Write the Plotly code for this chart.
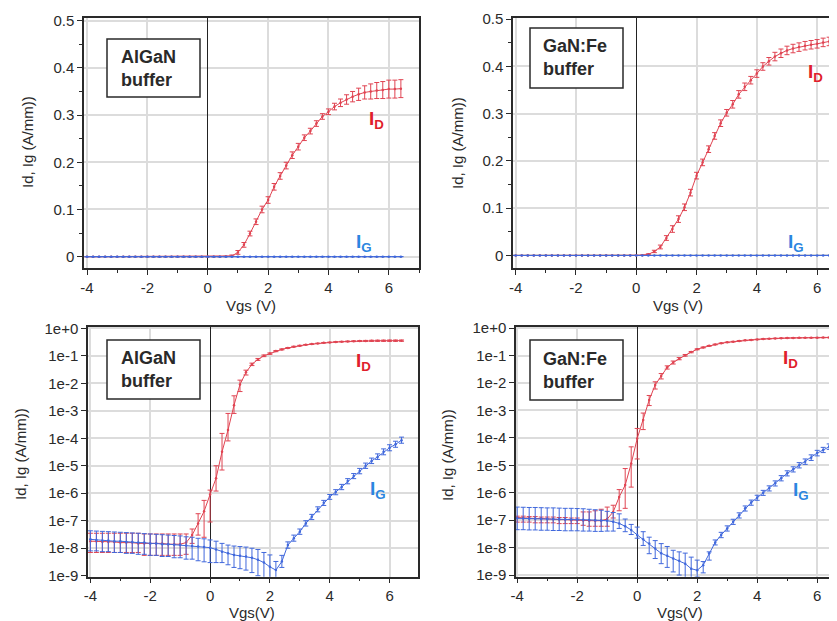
import plotly.graph_objects as go

# ---------------- data ----------------
VGS_ALGAN = [-4.0, -3.8, -3.6, -3.4, -3.2, -3.0, -2.8, -2.6, -2.4, -2.2, -2.0, -1.8, -1.6, -1.4, -1.2, -1.0,
             -0.8, -0.6, -0.4, -0.2, 0.0, 0.2, 0.4, 0.6, 0.8, 1.0, 1.2, 1.4, 1.6, 1.8, 2.0, 2.2, 2.4, 2.6,
             2.8, 3.0, 3.2, 3.4, 3.6, 3.8, 4.0, 4.2, 4.4, 4.6, 4.8, 5.0, 5.2, 5.4, 5.6, 5.8, 6.0, 6.2, 6.4]

ID_ALGAN = [1.8e-8, 1.8e-8, 1.7e-8, 1.7e-8, 1.7e-8, 1.6e-8, 1.6e-8, 1.6e-8, 1.5e-8, 1.5e-8, 1.5e-8, 1.5e-8,
            1.5e-8, 1.4e-8, 1.4e-8, 1.4e-8, 1.6e-8, 3.0e-8, 8.0e-8, 2.2e-7, 9.0e-7, 3.5e-6, 3.2e-5, 2.0e-4,
            1.6e-3, 9.0e-3, 0.025, 0.049, 0.074, 0.100, 0.120, 0.148, 0.171, 0.193, 0.215, 0.233, 0.252,
            0.266, 0.282, 0.297, 0.307, 0.318, 0.326, 0.333, 0.339, 0.344, 0.348, 0.350, 0.352, 0.353,
            0.355, 0.355, 0.356]
ID_ALGAN_HI = [3.5e-8, 3.5e-8, 3.5e-8, 3.5e-8, 3.5e-8, 3.5e-8, 3.5e-8, 3.5e-8, 3.5e-8, 3.3e-8, 3.3e-8, 3.3e-8,
               3.3e-8, 3.3e-8, 3.3e-8, 3.3e-8, 3.3e-8, 5.0e-8, 1.8e-7, 5.5e-7, 1.3e-6, 1.0e-5, 1.5e-4, 8.0e-4,
               3.5e-3, 1.3e-2, 0.030, 0.054, 0.080, 0.107, 0.127, 0.155, 0.178, 0.200, 0.222, 0.240, 0.258,
               0.272, 0.288, 0.303, 0.313, 0.325, 0.334, 0.343, 0.350, 0.357, 0.362, 0.366, 0.369, 0.371,
               0.374, 0.374, 0.375]
ID_ALGAN_LO = [7e-9, 7e-9, 7e-9, 7e-9, 7e-9, 7e-9, 7e-9, 7e-9, 7e-9, 5.5e-9, 5.5e-9, 5.5e-9,
               5.5e-9, 5.5e-9, 5.5e-9, 5.5e-9, 6e-9, 1.5e-8, 3e-8, 2.5e-8, 9e-8, 1.2e-6, 7e-6, 8e-5,
               8e-4, 5e-3, 0.020, 0.044, 0.068, 0.093, 0.113, 0.141, 0.164, 0.186, 0.208, 0.226, 0.246,
               0.260, 0.276, 0.291, 0.301, 0.311, 0.318, 0.323, 0.328, 0.331, 0.334, 0.334, 0.335, 0.335,
               0.336, 0.336, 0.337]

IG_ALGAN = [2.1e-8, 2.0e-8, 1.9e-8, 1.9e-8, 1.8e-8, 1.8e-8, 1.7e-8, 1.7e-8, 1.6e-8, 1.6e-8, 1.5e-8, 1.5e-8,
            1.4e-8, 1.4e-8, 1.35e-8, 1.3e-8, 1.25e-8, 1.2e-8, 1.15e-8, 1.1e-8, 1.05e-8, 9e-9, 7.5e-9, 6.5e-9,
            5.7e-9, 5.3e-9, 5.0e-9, 4.5e-9, 3.8e-9, 3.0e-9, 2.1e-9, 1.6e-9, 3.3e-9, 1.3e-8, 2.3e-8, 4.0e-8,
            8.0e-8, 1.4e-7, 2.6e-7, 4.5e-7, 7.4e-7, 1.1e-6, 1.7e-6, 2.8e-6, 4.2e-6, 6.4e-6, 1.0e-5, 1.5e-5,
            2.1e-5, 3.2e-5, 4.5e-5, 6.0e-5, 8.5e-5]
IG_ALGAN_HI = [4.3e-8, 4.2e-8, 4.1e-8, 4.0e-8, 3.9e-8, 3.8e-8, 3.7e-8, 3.6e-8, 3.5e-8, 3.4e-8, 3.3e-8, 3.2e-8,
               3.1e-8, 3.0e-8, 2.9e-8, 2.8e-8, 2.6e-8, 2.5e-8, 2.3e-8, 2.2e-8, 2.0e-8, 1.8e-8, 1.5e-8, 1.3e-8,
               1.2e-8, 1.15e-8, 1.1e-8, 1.0e-8, 9e-9, 7e-9, 5.7e-9, 3.3e-9, 5.5e-9, 1.7e-8, 3.0e-8, 5.0e-8,
               1.0e-7, 1.7e-7, 3.2e-7, 5.5e-7, 9e-7, 1.35e-6, 2.1e-6, 3.4e-6, 5.2e-6, 8e-6, 1.25e-5, 1.9e-5,
               2.7e-5, 4.1e-5, 5.8e-5, 7.8e-5, 1.1e-4]
IG_ALGAN_LO = [8e-9, 8e-9, 7.5e-9, 7.5e-9, 7e-9, 7e-9, 6.5e-9, 6.5e-9, 6e-9, 6e-9, 5.5e-9, 5.5e-9,
               5e-9, 5e-9, 4.5e-9, 4.5e-9, 4e-9, 4e-9, 3.5e-9, 3.2e-9, 3e-9, 3e-9, 3e-9, 2.5e-9,
               2e-9, 1.8e-9, 1.6e-9, 1.3e-9, 1.0e-9, 7e-10, 5e-10, 5e-10, 2e-9, 1.0e-8, 1.8e-8, 3.2e-8,
               6.4e-8, 1.1e-7, 2.1e-7, 3.6e-7, 6e-7, 8.8e-7, 1.35e-6, 2.2e-6, 3.4e-6, 5.1e-6, 8e-6, 1.2e-5,
               1.7e-5, 2.5e-5, 3.5e-5, 4.7e-5, 6.6e-5]

VGS_GANFE = [-4.0, -3.8, -3.6, -3.4, -3.2, -3.0, -2.8, -2.6, -2.4, -2.2, -2.0, -1.8, -1.6, -1.4, -1.2, -1.0,
             -0.8, -0.6, -0.4, -0.2, 0.0, 0.2, 0.4, 0.6, 0.8, 1.0, 1.2, 1.4, 1.6, 1.8, 2.0, 2.2, 2.4, 2.6,
             2.8, 3.0, 3.2, 3.4, 3.6, 3.8, 4.0, 4.2, 4.4, 4.6, 4.8, 5.0, 5.2, 5.4, 5.6, 5.8, 6.0, 6.2, 6.4, 6.6]

ID_GANFE = [1.25e-7, 1.2e-7, 1.2e-7, 1.15e-7, 1.15e-7, 1.1e-7, 1.1e-7, 1.05e-7, 1.05e-7, 1.0e-7, 1.0e-7,
            9.8e-8, 9.5e-8, 9.5e-8, 9.6e-8, 1.1e-7, 2.0e-7, 7.0e-7, 1.9e-6, 1.15e-5, 9.4e-5, 4.5e-4, 2.4e-3,
            8.5e-3, 0.018, 0.037, 0.056, 0.077, 0.102, 0.133, 0.169, 0.197, 0.225, 0.253, 0.280, 0.302,
            0.320, 0.341, 0.357, 0.371, 0.385, 0.400, 0.411, 0.421, 0.428, 0.434, 0.438, 0.441, 0.444,
            0.446, 0.448, 0.451, 0.453, 0.455]
ID_GANFE_HI = [1.4e-7, 1.4e-7, 1.35e-7, 1.35e-7, 1.3e-7, 1.3e-7, 1.3e-7, 1.25e-7, 1.25e-7, 1.2e-7, 1.2e-7,
               2e-7, 2e-7, 2.2e-7, 2.5e-7, 3e-7, 3.5e-7, 1.3e-6, 7.6e-6, 4.7e-5, 2.2e-4, 8e-4, 3.5e-3,
               0.011, 0.022, 0.042, 0.063, 0.084, 0.109, 0.140, 0.176, 0.204, 0.232, 0.260, 0.287, 0.309,
               0.328, 0.349, 0.365, 0.379, 0.393, 0.408, 0.419, 0.430, 0.437, 0.443, 0.447, 0.450, 0.453,
               0.455, 0.457, 0.460, 0.462, 0.464]
ID_GANFE_LO = [8.5e-8, 8.5e-8, 8.5e-8, 8e-8, 8e-8, 8e-8, 8e-8, 7.5e-8, 7.5e-8, 7.5e-8, 7.5e-8,
               6.5e-8, 6e-8, 6e-8, 6e-8, 6e-8, 1.2e-7, 2.2e-7, 2.7e-7, 1.6e-6, 1.7e-5, 2e-4, 1.5e-3,
               6e-3, 0.014, 0.032, 0.049, 0.070, 0.095, 0.126, 0.162, 0.190, 0.218, 0.246, 0.273, 0.295,
               0.312, 0.333, 0.349, 0.363, 0.377, 0.392, 0.403, 0.412, 0.419, 0.425, 0.429, 0.432, 0.435,
               0.437, 0.439, 0.442, 0.444, 0.446]

IG_GANFE = [1.17e-7, 1.15e-7, 1.13e-7, 1.12e-7, 1.1e-7, 1.1e-7, 1.08e-7, 1.07e-7, 1.05e-7, 1.05e-7, 1.05e-7,
            1.03e-7, 1.02e-7, 1.0e-7, 9.8e-8, 9.5e-8, 8.8e-8, 7.6e-8, 6.0e-8, 4.4e-8, 2.9e-8, 2.0e-8, 1.4e-8,
            9.3e-9, 6.2e-9, 5.0e-9, 4.0e-9, 3.3e-9, 2.6e-9, 1.7e-9, 1.5e-9, 2.3e-9, 6.2e-9, 1.55e-8, 2.9e-8,
            5.0e-8, 8.7e-8, 1.5e-7, 2.7e-7, 4.4e-7, 6.6e-7, 1.0e-6, 1.45e-6, 2.2e-6, 3.4e-6, 5.1e-6, 7.1e-6,
            1.0e-5, 1.35e-5, 1.9e-5, 2.8e-5, 3.6e-5, 4.8e-5, 6.3e-5]
IG_GANFE_HI = [3.0e-7, 2.95e-7, 2.9e-7, 2.9e-7, 2.85e-7, 2.8e-7, 2.8e-7, 2.75e-7, 2.7e-7, 2.7e-7, 2.65e-7,
               2.6e-7, 2.5e-7, 2.4e-7, 2.3e-7, 2.1e-7, 1.9e-7, 1.7e-7, 1.1e-7, 7e-8, 5.6e-8, 3.8e-8, 2.4e-8,
               1.8e-8, 1.4e-8, 1.1e-8, 8e-9, 7e-9, 6.3e-9, 4.5e-9, 3.5e-9, 3.1e-9, 7e-9, 1.9e-8, 3.6e-8,
               6.2e-8, 1.08e-7, 1.85e-7, 3.3e-7, 5.4e-7, 8.1e-7, 1.22e-6, 1.78e-6, 2.7e-6, 4.2e-6, 6.3e-6,
               8.8e-6, 1.25e-5, 1.7e-5, 2.4e-5, 3.5e-5, 4.5e-5, 6e-5, 7.9e-5]
IG_GANFE_LO = [4.5e-8, 4.5e-8, 4.4e-8, 4.4e-8, 4.3e-8, 4.3e-8, 4.2e-8, 4.2e-8, 4.1e-8, 4.1e-8, 4.1e-8,
               4.0e-8, 4.0e-8, 3.9e-8, 3.9e-8, 4e-8, 4e-8, 5e-8, 3.8e-8, 3e-8, 2.2e-8, 1.2e-8, 6e-9,
               4e-9, 2.6e-9, 1.9e-9, 1.3e-9, 1.0e-9, 7e-10, 6e-10, 8.5e-10, 1.2e-9, 3.5e-9, 1.25e-8, 2.3e-8,
               4e-8, 7e-8, 1.2e-7, 2.15e-7, 3.5e-7, 5.3e-7, 8e-7, 1.16e-6, 1.76e-6, 2.7e-6, 4.1e-6,
               5.7e-6, 8e-6, 1.08e-5, 1.5e-5, 2.2e-5, 2.9e-5, 3.8e-5, 5e-5]

LIN_TICKS = [0, 0.1, 0.2, 0.3, 0.4, 0.5]
LIN_TICKTEXT = ["0", "0.1", "0.2", "0.3", "0.4", "0.5"]
LOG_TICKS = [1e-9, 1e-8, 1e-7, 1e-6, 1e-5, 1e-4, 1e-3, 1e-2, 1e-1, 1e0]
LOG_TICKTEXT = ["1e-9", "1e-8", "1e-7", "1e-6", "1e-5", "1e-4", "1e-3", "1e-2", "1e-1", "1e+0"]
X_TICKS = [-4, -2, 0, 2, 4, 6]
X_TICKTEXT = ["-4", "-2", "0", "2", "4", "6"]

PANEL_LABELS = ["AlGaN<br>buffer", "GaN:Fe<br>buffer", "AlGaN<br>buffer", "GaN:Fe<br>buffer"]

# ---------------- styling ----------------
PAGE_OFF = 8              # the page body has an 8 px margin
W, H = 837 - PAGE_OFF, 621 - PAGE_OFF
RED = "#e04452"
BLUE = "#4068dc"
RED_TXT = "#e01e2c"
BLUE_TXT = "#2b86e0"
FONT = "Liberation Sans, Arial, sans-serif"
DARK = "#2a2a2a"
GRID = "#dcdcdc"


def px(x):
    # screen pixel -> paper fraction
    return (x - PAGE_OFF) / W


def py(y):
    return 1 - (y - PAGE_OFF) / H


fig = go.Figure()


def add_series(xs, vals, hi, lo, color, xa, ya):
    up = [h - v for h, v in zip(hi, vals)]
    dn = [v - l for v, l in zip(vals, lo)]
    fig.add_trace(go.Scatter(
        x=xs, y=vals, mode="lines+markers", xaxis=xa, yaxis=ya,
        line=dict(color=color, width=1),
        marker=dict(color=color, size=2.5),
        error_y=dict(type="data", symmetric=False, array=up, arrayminus=dn,
                     color=color, thickness=1, width=2.5),
        showlegend=False, hoverinfo="skip"))


# top row (linear)
add_series(VGS_ALGAN, ID_ALGAN, ID_ALGAN_HI, ID_ALGAN_LO, RED, "x", "y")
add_series(VGS_ALGAN, IG_ALGAN, IG_ALGAN_HI, IG_ALGAN_LO, BLUE, "x", "y")
add_series(VGS_GANFE, ID_GANFE, ID_GANFE_HI, ID_GANFE_LO, RED, "x2", "y2")
add_series(VGS_GANFE, IG_GANFE, IG_GANFE_HI, IG_GANFE_LO, BLUE, "x2", "y2")
# bottom row (log)
add_series(VGS_ALGAN, ID_ALGAN, ID_ALGAN_HI, ID_ALGAN_LO, RED, "x3", "y3")
add_series(VGS_ALGAN, IG_ALGAN, IG_ALGAN_HI, IG_ALGAN_LO, BLUE, "x3", "y3")
add_series(VGS_GANFE, ID_GANFE, ID_GANFE_HI, ID_GANFE_LO, RED, "x4", "y4")
add_series(VGS_GANFE, IG_GANFE, IG_GANFE_HI, IG_GANFE_LO, BLUE, "x4", "y4")

tickfont = dict(family=FONT, size=15, color=DARK)


def xax(domain, rng, anchor):
    return dict(domain=domain, range=rng, anchor=anchor, tickvals=X_TICKS, ticktext=X_TICKTEXT,
                automargin=False, ticks="outside", ticklen=5, tickcolor=DARK, tickfont=tickfont,
                showline=True, linecolor=DARK, linewidth=1.5, mirror=True,
                showgrid=True, gridcolor=GRID, gridwidth=1.5,
                zeroline=True, zerolinecolor="#222222", zerolinewidth=1,
                minor=dict(dtick=1, tick0=0, ticks="outside", ticklen=3, tickcolor=DARK, showgrid=False))


def yax_lin(domain, rng, anchor, mirror):
    return dict(domain=domain, range=rng, anchor=anchor, tickvals=LIN_TICKS, ticktext=LIN_TICKTEXT,
                automargin=False, ticks="outside", ticklen=5, tickcolor=DARK, tickfont=tickfont,
                showline=True, linecolor=DARK, linewidth=1.5, mirror=mirror,
                showgrid=True, gridcolor=GRID, gridwidth=1.5, zeroline=False,
                minor=dict(dtick=0.05, tick0=0, ticks="outside", ticklen=3, tickcolor=DARK, showgrid=False))


def yax_log(domain, rng, anchor, mirror):
    return dict(type="log", domain=domain, range=rng, anchor=anchor, tickvals=LOG_TICKS,
                ticktext=LOG_TICKTEXT, automargin=False, ticks="outside", ticklen=5, tickcolor=DARK,
                tickfont=tickfont, showline=True, linecolor=DARK, linewidth=1.5, mirror=mirror,
                showgrid=True, gridcolor=GRID, gridwidth=1.5, zeroline=False)


top_dom = [py(268), py(18.3)]
bot_dom = [py(576.7), py(326.7)]

fig.update_layout(
    width=W, height=H, margin=dict(l=0, r=0, t=0, b=0, autoexpand=False),
    paper_bgcolor="white", plot_bgcolor="white",
    xaxis=xax([px(84), px(419)], [-4.1, 7.0], "y"),
    yaxis=yax_lin(top_dom, [-0.024, 0.505], "x", True),
    xaxis2=xax([px(513), 1.0], [-4.09, 6.66], "y2"),
    yaxis2=yax_lin(top_dom, [-0.0265, 0.502], "x2", False),
    xaxis3=xax([px(88), px(418)], [-4.08, 6.95], "y3"),
    yaxis3=yax_log(bot_dom, [-9.036, 0.058], "x3", True),
    xaxis4=xax([px(516), 1.0], [-4.04, 6.66], "y4"),
    yaxis4=yax_log(bot_dom, [-9.06, 0.05], "x4", False),
)

ann = []
shapes = []

# panel label boxes
boxes = [(107, 39, 200, 97), (530, 28, 623, 88), (107, 340, 200, 399), (530, 340, 623, 400)]
text_pos = [(119, 68.5), (541, 58), (119, 369), (541, 370)]
for (x0, y0, x1, y1), (tx, ty), lab in zip(boxes, text_pos, PANEL_LABELS):
    shapes.append(dict(type="rect", xref="paper", yref="paper", x0=px(x0), x1=px(x1),
                       y0=py(y1), y1=py(y0), line=dict(color=DARK, width=1.5), fillcolor="white",
                       layer="above"))
    ann.append(dict(text="<b>" + lab + "</b>", xref="paper", yref="paper", x=px(tx), y=py(ty),
                    xanchor="left", yanchor="middle", align="left", showarrow=False,
                    font=dict(family=FONT, size=18, color=DARK)))

# I_D / I_G labels
id_pos = [(367, 120), (806, 73), (354, 362), (781, 359)]
ig_pos = [(354, 243), (786, 243), (368, 490), (791, 491)]
for (x, y) in id_pos:
    ann.append(dict(text="<b>I<sub>D</sub></b>", xref="paper", yref="paper", x=px(x), y=py(y),
                    xanchor="left", yanchor="middle", showarrow=False,
                    font=dict(family=FONT, size=19, color=RED_TXT)))
for (x, y) in ig_pos:
    ann.append(dict(text="<b>I<sub>G</sub></b>", xref="paper", yref="paper", x=px(x), y=py(y),
                    xanchor="left", yanchor="middle", showarrow=False,
                    font=dict(family=FONT, size=19, color=BLUE_TXT)))

# axis titles
xt = [("Vgs (V)", 251, 305), ("Vgs (V)", 678, 305), ("Vgs(V)", 252, 612), ("Vgs(V)", 680, 612)]
for t, x, y in xt:
    ann.append(dict(text=t, xref="paper", yref="paper", x=px(x), y=py(y), xanchor="center",
                    yanchor="middle", showarrow=False, font=dict(family=FONT, size=15, color=DARK)))
yt = [(28, 142), (457, 143), (20, 454), (447, 455)]
for x, y in yt:
    ann.append(dict(text="Id, Ig (A/mm))", xref="paper", yref="paper", x=px(x), y=py(y),
                    xanchor="center", yanchor="middle", textangle=-90, showarrow=False,
                    font=dict(family=FONT, size=15, color=DARK)))

fig.update_layout(annotations=ann, shapes=shapes)

fig.write_html("out.html")
